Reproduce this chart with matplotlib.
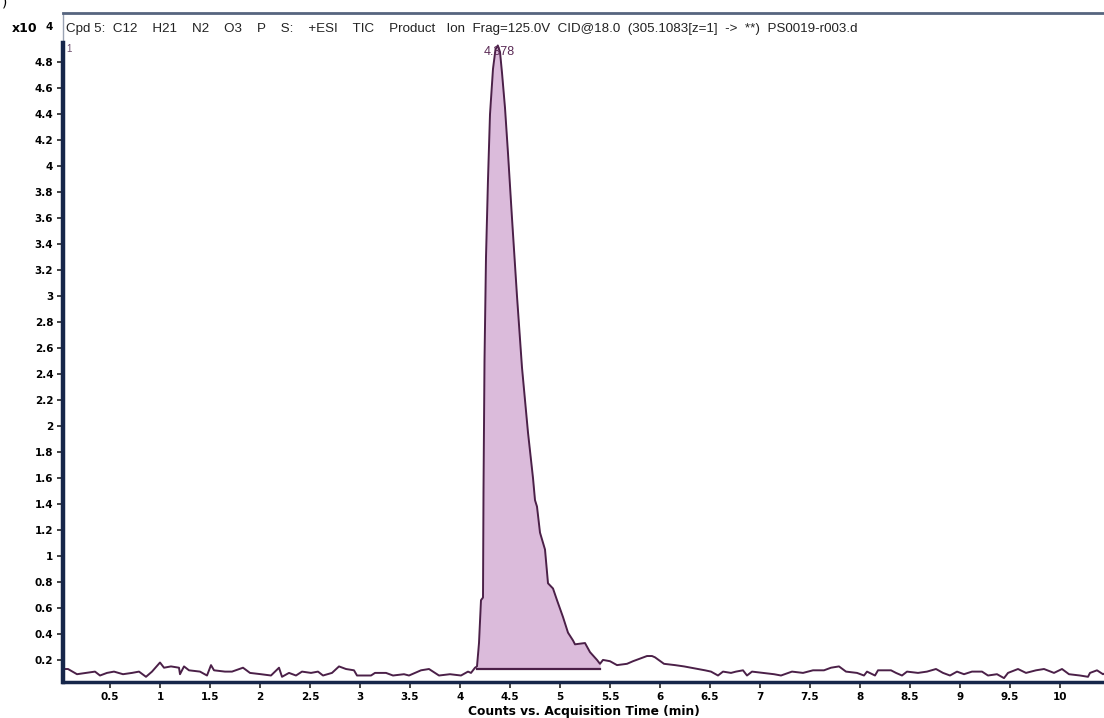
import numpy as np
import matplotlib.pyplot as plt

# retention time (min) and counts (x10^4)
time = [0.05, 0.08, 0.17, 0.26, 0.35, 0.40, 0.47, 0.54, 0.63, 0.72, 0.79, 0.86, 0.92,
        1.00, 1.04, 1.11, 1.19, 1.20, 1.24, 1.29, 1.40, 1.47, 1.51, 1.54, 1.65, 1.72,
        1.83, 1.90, 2.01, 2.11, 2.19, 2.22, 2.29, 2.36, 2.42, 2.51, 2.58, 2.63, 2.72,
        2.79, 2.86, 2.94, 2.97, 3.11, 3.15, 3.26, 3.33, 3.44, 3.49, 3.61, 3.69, 3.79,
        3.90, 4.01, 4.08, 4.11, 4.15,
        4.17, 4.19, 4.21, 4.23, 4.235, 4.245, 4.26, 4.28, 4.30, 4.33, 4.355, 4.378,
        4.40, 4.42, 4.45, 4.48, 4.52, 4.57, 4.62, 4.68, 4.73, 4.75, 4.77, 4.80, 4.85,
        4.88, 4.93, 4.97, 5.03, 5.08, 5.13, 5.15, 5.25, 5.30, 5.37, 5.40,
        5.43, 5.50, 5.57, 5.67, 5.73, 5.80, 5.87, 5.92, 5.95, 6.04, 6.15, 6.24, 6.31,
        6.38, 6.45, 6.51, 6.58, 6.63, 6.71, 6.76, 6.83, 6.87, 6.92, 7.03, 7.14, 7.21,
        7.32, 7.43, 7.53, 7.64, 7.71, 7.79, 7.86, 7.97, 8.04, 8.07, 8.15, 8.18, 8.31,
        8.36, 8.42, 8.47, 8.58, 8.67, 8.76, 8.83, 8.90, 8.97, 9.04, 9.12, 9.22, 9.28,
        9.37, 9.44, 9.48, 9.58, 9.66, 9.76, 9.84, 9.94, 10.02, 10.09, 10.20, 10.28,
        10.30, 10.37, 10.43, 10.46]
counts = [0.13, 0.13, 0.09, 0.10, 0.11, 0.08, 0.10, 0.11, 0.09, 0.10, 0.11, 0.07, 0.11,
          0.18, 0.14, 0.15, 0.14, 0.09, 0.15, 0.12, 0.11, 0.08, 0.16, 0.12, 0.11, 0.11,
          0.14, 0.10, 0.09, 0.08, 0.14, 0.07, 0.10, 0.08, 0.11, 0.10, 0.11, 0.08, 0.10,
          0.15, 0.13, 0.12, 0.08, 0.08, 0.10, 0.10, 0.08, 0.09, 0.08, 0.12, 0.13, 0.08,
          0.09, 0.08, 0.11, 0.10, 0.14,
          0.15, 0.33, 0.66, 0.68, 1.50, 2.50, 3.30, 3.90, 4.40, 4.75, 4.90, 4.93,
          4.88, 4.72, 4.45, 4.10, 3.60, 3.00, 2.45, 1.95, 1.60, 1.43, 1.38, 1.18, 1.05,
          0.79, 0.75, 0.66, 0.53, 0.41, 0.35, 0.32, 0.33, 0.26, 0.20, 0.17,
          0.20, 0.19, 0.16, 0.17, 0.19, 0.21, 0.23, 0.23, 0.22, 0.17, 0.16, 0.15, 0.14,
          0.13, 0.12, 0.11, 0.08, 0.11, 0.10, 0.11, 0.12, 0.08, 0.11, 0.10, 0.09, 0.08,
          0.11, 0.10, 0.12, 0.12, 0.14, 0.15, 0.11, 0.10, 0.08, 0.11, 0.08, 0.12, 0.12,
          0.10, 0.08, 0.11, 0.10, 0.11, 0.13, 0.10, 0.08, 0.11, 0.09, 0.11, 0.11, 0.08,
          0.09, 0.06, 0.10, 0.13, 0.10, 0.12, 0.13, 0.10, 0.13, 0.09, 0.08, 0.07,
          0.10, 0.12, 0.09, 0.10]

peak_start, peak_end = 4.17, 5.41
peak_base = 0.13
peak_rt = "4.378"

title = ("Cpd 5:  C12    H21    N2    O3    P    S:    +ESI    TIC    Product   Ion  "
         "Frag=125.0V  CID@18.0  (305.1083[z=1]  ->  **)  PS0019-r003.d")

xticks = [0.5, 1, 1.5, 2, 2.5, 3, 3.5, 4, 4.5, 5, 5.5, 6, 6.5, 7, 7.5, 8, 8.5, 9, 9.5, 10]
yticks = [0.2, 0.4, 0.6, 0.8, 1, 1.2, 1.4, 1.6, 1.8, 2, 2.2, 2.4, 2.6, 2.8, 3,
          3.2, 3.4, 3.6, 3.8, 4, 4.2, 4.4, 4.6, 4.8]

t = np.array(time)
c = np.array(counts)

fig = plt.figure(figsize=(11.04, 7.18), dpi=100)
ax = fig.add_axes([63 / 1104, 1 - 682 / 718, 1 - 63 / 1104, (682 - 13) / 718])

ax.set_xlim(0.03, 10.44)
ax.set_ylim(0.03, 5.18)

# integrated peak area
mask = (t >= peak_start) & (t <= peak_end)
ax.fill_between(t[mask], peak_base, c[mask], color="#dbbbdb", lw=0, zorder=1)
ax.plot([peak_start, peak_end - 0.01], [peak_base, peak_base], color="#4b2048", lw=1.6, zorder=2)
ax.plot(t, c, color="#4b2048", lw=1.4, zorder=3)

ax.text(4.39, 4.88, peak_rt, ha="center", va="center", fontsize=9,
        color="#5a2a55", family="Liberation Sans", zorder=4)
ax.text(0.06, 4.90, "1", ha="left", va="center", fontsize=7, color="#6a4a6a",
        family="Liberation Sans")
ax.text(0.06, 5.06, title, ha="left", va="center", fontsize=9.6,
        family="Liberation Sans", color="#222222")

# frame
ax.spines["right"].set_visible(False)
ax.spines["top"].set_color("#56657f")
ax.spines["top"].set_linewidth(2)
ax.spines["left"].set_color("#9aa3b3")
ax.spines["left"].set_linewidth(1)
ax.spines["bottom"].set_color("#16264a")
ax.spines["bottom"].set_linewidth(2.5)
ax.axvline(0.03, ymin=0, ymax=(4.95 - 0.03) / (5.18 - 0.03), color="#16264a", lw=3.2,
           clip_on=False, zorder=5)

ax.set_xticks(xticks)
ax.set_xticklabels([f"{v:g}" for v in xticks])
ax.set_yticks(yticks)
ax.set_yticklabels([f"{v:g}" for v in yticks])
ax.tick_params(axis="both", direction="out", length=4, width=1.2, color="#222222",
               labelsize=7.5, pad=3)
for lab in ax.get_xticklabels() + ax.get_yticklabels():
    lab.set_fontweight("bold")
    lab.set_family("DejaVu Sans")

ax.set_xlabel("Counts vs. Acquisition Time (min)", fontsize=8.8, fontweight="bold", labelpad=2)

fig.text(12 / 1104, 1 - 29 / 718, "x10", fontsize=9, fontweight="bold", va="center")
fig.text(46 / 1104, 1 - 27 / 718, "4", fontsize=7.5, fontweight="bold", va="center")
fig.text(2 / 1104, 1 - 3 / 718, ")", fontsize=10, va="center")

fig.savefig("out.png", dpi=100)
